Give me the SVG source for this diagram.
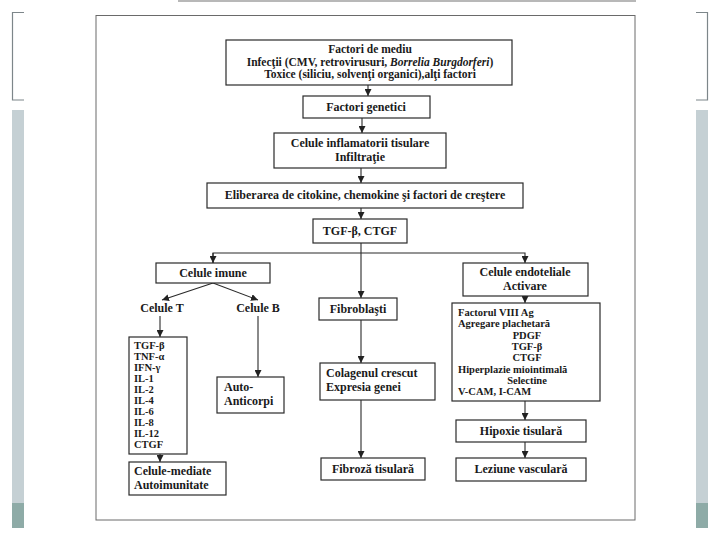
<svg xmlns="http://www.w3.org/2000/svg" width="720" height="540" viewBox="0 0 720 540">
<defs>
<marker id="ah" viewBox="0 0 8 8" refX="8" refY="4" markerWidth="7" markerHeight="7" markerUnits="userSpaceOnUse" orient="auto">
<path d="M0,0 L8,4 L0,8 z" fill="#222"/>
</marker>
<linearGradient id="topg" x1="0" y1="0" x2="1" y2="0">
<stop offset="0" stop-color="#d8d8d8"/>
<stop offset="0.5" stop-color="#9a9a9a"/>
<stop offset="1" stop-color="#666"/>
</linearGradient>
</defs>
<style>
.bx{fill:#fff;stroke:#2a2a2a;stroke-width:1.2}
.t{font-family:"Liberation Serif","Times New Roman",serif;font-size:12px;font-weight:bold;fill:#1a1a1a}
.m{font-size:11.5px}
.s{font-size:10.5px}
.c{text-anchor:middle}
.cn{fill:none;stroke:#2a2a2a;stroke-width:1.1}
.deco{fill:none;stroke:#7d868a;stroke-width:1.2}
</style>
<rect x="0" y="0" width="720" height="540" fill="#fff"/>
<g id="slide-decor">
<line x1="178" y1="1" x2="636" y2="1" stroke="#a0a0a0" stroke-width="1.5"/>
<path class="deco" d="M24,12.5 H12.5 V100 H24"/>
<path class="deco" d="M696,12.5 H707.5 V100 H696"/>
<rect x="12" y="110" width="12" height="393" fill="#c5d0d4"/>
<rect x="12" y="503" width="12" height="25" fill="#8eaba7"/>
<rect x="696" y="110" width="12" height="393" fill="#c5d0d4"/>
<rect x="696" y="503" width="12" height="25" fill="#8eaba7"/>
</g>
<g id="frame">
<rect x="96" y="15.5" width="539" height="504.5" fill="#fff" stroke="#6a6a6a" stroke-width="1"/>
<line x1="96" y1="15.5" x2="635" y2="15.5" stroke="url(#topg)" stroke-width="1.2"/>
</g>
<g id="connectors">
<line class="cn" x1="368" y1="85" x2="368" y2="96" marker-end="url(#ah)"/>
<line class="cn" x1="362" y1="118" x2="362" y2="133" marker-end="url(#ah)"/>
<line class="cn" x1="361" y1="168" x2="361" y2="183" marker-end="url(#ah)"/>
<line class="cn" x1="361" y1="208" x2="361" y2="219" marker-end="url(#ah)"/>
<line class="cn" x1="361" y1="243" x2="361" y2="298" marker-end="url(#ah)"/>
<polyline class="cn" points="213,263 213,253 525,253 525,263" marker-end="url(#ah)"/>
<line class="cn" x1="213" y1="253" x2="213" y2="263" marker-end="url(#ah)"/>
<line class="cn" x1="213" y1="283" x2="162" y2="300" marker-end="url(#ah)"/>
<line class="cn" x1="213" y1="283" x2="258" y2="300" marker-end="url(#ah)"/>
<line class="cn" x1="160" y1="316" x2="160" y2="337" marker-end="url(#ah)"/>
<line class="cn" x1="258" y1="316" x2="258" y2="377" marker-end="url(#ah)"/>
<line class="cn" x1="160" y1="454" x2="160" y2="462" marker-end="url(#ah)"/>
<line class="cn" x1="361" y1="320" x2="361" y2="363" marker-end="url(#ah)"/>
<line class="cn" x1="361" y1="400" x2="361" y2="458" marker-end="url(#ah)"/>
<line class="cn" x1="525" y1="296" x2="525" y2="303" marker-end="url(#ah)"/>
<line class="cn" x1="525" y1="401" x2="525" y2="420" marker-end="url(#ah)"/>
<line class="cn" x1="525" y1="442" x2="525" y2="458" marker-end="url(#ah)"/>
</g>
<g id="factori-mediu">
<rect class="bx" x="226" y="40" width="286" height="45"/>
<text class="t m c" x="370" y="53">Factori de mediu</text>
<text class="t m c" x="370" y="65.5">Infecţii (CMV, retrovirusuri, <tspan font-style="italic">Borrelia Burgdorferi</tspan>)</text>
<text class="t m c" x="370" y="78">Toxice (siliciu, solvenţi organici),alţi factori</text>
</g>
<g id="factori-genetici">
<rect class="bx" x="303" y="96" width="127" height="22"/>
<text class="t c" x="366" y="111">Factori genetici</text>
</g>
<g id="celule-inflamatorii">
<rect class="bx" x="274" y="133" width="172" height="35"/>
<text class="t c" x="360" y="147">Celule inflamatorii tisulare</text>
<text class="t c" x="360" y="161">Infiltraţie</text>
</g>
<g id="eliberarea">
<rect class="bx" x="207" y="183" width="316" height="25"/>
<text class="t c" x="365" y="199">Eliberarea de citokine, chemokine şi factori de creştere</text>
</g>
<g id="tgf-ctgf">
<rect class="bx" x="313" y="219" width="94" height="24"/>
<text class="t c" x="360" y="235">TGF-β, CTGF</text>
</g>
<g id="celule-imune">
<rect class="bx" x="156" y="263" width="114" height="20"/>
<text class="t c" x="213" y="277">Celule imune</text>
</g>
<g id="celule-t">
<text class="t c" x="162" y="312">Celule T</text>
</g>
<g id="celule-b">
<text class="t c" x="258" y="312">Celule B</text>
</g>
<g id="citokine-t">
<rect class="bx" x="129" y="337" width="58" height="117"/>
<text class="t s" x="134" y="348.5">TGF-β</text>
<text class="t s" x="134" y="359.6">TNF-α</text>
<text class="t s" x="134" y="370.7">IFN-γ</text>
<text class="t s" x="134" y="381.8">IL-1</text>
<text class="t s" x="134" y="392.9">IL-2</text>
<text class="t s" x="134" y="404">IL-4</text>
<text class="t s" x="134" y="415.1">IL-6</text>
<text class="t s" x="134" y="426.2">IL-8</text>
<text class="t s" x="134" y="437.3">IL-12</text>
<text class="t s" x="134" y="448.4">CTGF</text>
</g>
<g id="celule-mediate">
<rect class="bx" x="129" y="462" width="97" height="33"/>
<text class="t" x="134" y="475">Celule-mediate</text>
<text class="t" x="134" y="489">Autoimunitate</text>
</g>
<g id="auto-anticorpi">
<rect class="bx" x="217" y="377" width="67" height="36"/>
<text class="t" x="224" y="391">Auto-</text>
<text class="t" x="224" y="405">Anticorpi</text>
</g>
<g id="fibroblasti">
<rect class="bx" x="319" y="298" width="78" height="22"/>
<text class="t c" x="358" y="313">Fibroblaşti</text>
</g>
<g id="colagenul">
<rect class="bx" x="320" y="363" width="115" height="37"/>
<text class="t" x="326" y="377">Colagenul crescut</text>
<text class="t" x="326" y="391">Expresia genei</text>
</g>
<g id="fibroza">
<rect class="bx" x="321" y="458" width="104" height="22"/>
<text class="t c" x="373" y="473">Fibroză tisulară</text>
</g>
<g id="celule-endoteliale">
<rect class="bx" x="463" y="263" width="125" height="33"/>
<text class="t c" x="525" y="276">Celule endoteliale</text>
<text class="t c" x="525" y="290">Activare</text>
</g>
<g id="factori-endoteliali">
<rect class="bx" x="452" y="303" width="148" height="98"/>
<text class="t s" x="458" y="316">Factorul VIII Ag</text>
<text class="t s" x="458" y="327.3">Agregare plachetară</text>
<text class="t s c" x="527" y="338.6">PDGF</text>
<text class="t s c" x="527" y="349.9">TGF-β</text>
<text class="t s c" x="527" y="361.2">CTGF</text>
<text class="t s" x="458" y="372.5">Hiperplazie miointimală</text>
<text class="t s c" x="527" y="383.8">Selectine</text>
<text class="t s" x="458" y="395.1">V-CAM, I-CAM</text>
</g>
<g id="hipoxie">
<rect class="bx" x="456" y="420" width="130" height="22"/>
<text class="t c" x="521" y="435">Hipoxie tisulară</text>
</g>
<g id="leziune">
<rect class="bx" x="456" y="458" width="130" height="23"/>
<text class="t c" x="521" y="473">Leziune vasculară</text>
</g>
</svg>
